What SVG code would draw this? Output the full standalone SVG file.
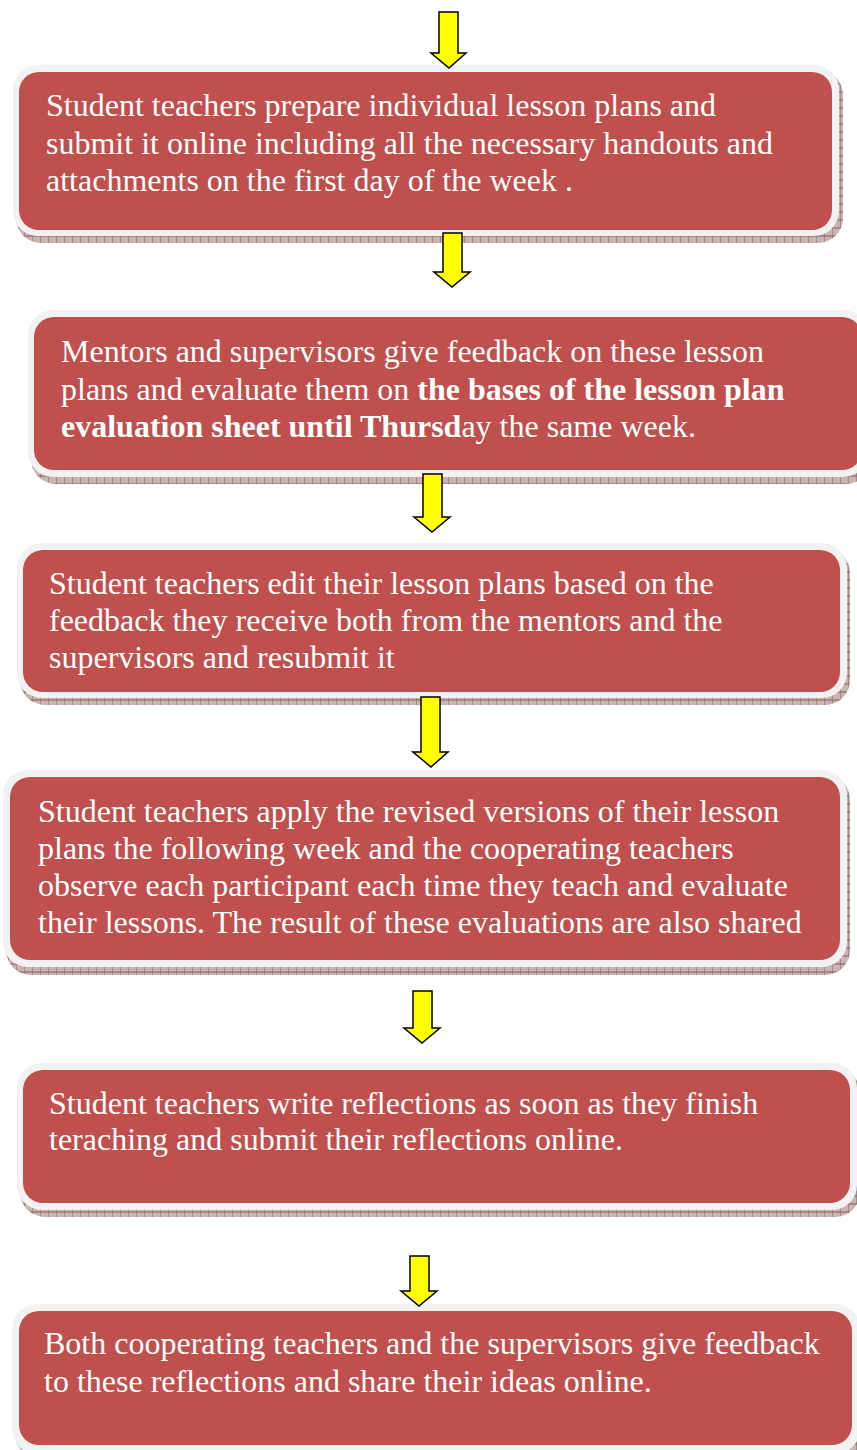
<svg xmlns="http://www.w3.org/2000/svg" width="857" height="1450" viewBox="0 0 857 1450">
<style>
.outer{fill:#F2F2F2;}
.red{fill:#C0504D;}
.sh{fill:url(#hatch);}
.t{font-family:"Liberation Serif","Times New Roman",serif;font-size:32px;fill:#FFFFFF;}
.b{font-weight:bold;}
.arr{fill:#FFFF00;stroke:#000000;stroke-width:1.5;stroke-linejoin:miter;}
</style>
<defs>
<pattern id="hatch" width="8" height="8" patternUnits="userSpaceOnUse">
<rect width="8" height="8" fill="#C9B4B4"/>
<path d="M0 0V8M0 4H8" stroke="#8E5B5B" stroke-width="1"/>
</pattern>
</defs>
<rect width="857" height="1450" fill="#FFFFFF"/>
<g id="node1">
<rect class="sh" x="16" y="70" width="827" height="173" rx="25"/>
<rect class="outer" x="13" y="65" width="826" height="171" rx="25"/>
<rect class="red" x="19" y="72" width="813" height="158" rx="20"/>
<text class="t" x="46" y="116">Student teachers prepare individual lesson plans and</text>
<text class="t" x="46" y="154">submit it online including all the necessary handouts and</text>
<text class="t" x="46" y="191">attachments on the first day of the week .</text>
</g>
<g id="node2">
<rect class="sh" x="31" y="315" width="840" height="169" rx="25"/>
<rect class="outer" x="28" y="310" width="840" height="167" rx="25"/>
<rect class="red" x="34" y="317" width="828" height="153" rx="20"/>
<text class="t" x="61" y="362">Mentors and supervisors give feedback on these lesson</text>
<text class="t" x="61" y="400">plans and evaluate them on <tspan class="b">the bases of the lesson plan</tspan></text>
<text class="t" x="61" y="437"><tspan class="b">evaluation sheet until Thursd</tspan>ay the same week.</text>
</g>
<g id="node3">
<rect class="sh" x="20" y="548" width="830" height="157" rx="25"/>
<rect class="outer" x="17" y="543" width="830" height="155" rx="25"/>
<rect class="red" x="23" y="550" width="817" height="142" rx="20"/>
<text class="t" x="49" y="594">Student teachers edit their lesson plans based on the</text>
<text class="t" x="49" y="631">feedback they receive both from the mentors and the</text>
<text class="t" x="49" y="668">supervisors and resubmit it</text>
</g>
<g id="node4">
<rect class="sh" x="6" y="775" width="844" height="200" rx="25"/>
<rect class="outer" x="3" y="770" width="844" height="197" rx="25"/>
<rect class="red" x="10" y="777" width="830" height="183" rx="20"/>
<text class="t" x="38" y="822">Student teachers apply the revised versions of their lesson</text>
<text class="t" x="38" y="859">plans the following week and the cooperating teachers</text>
<text class="t" x="38" y="896">observe each participant each time they teach and evaluate</text>
<text class="t" x="38" y="933">their lessons. The result of these evaluations are also shared</text>
</g>
<g id="node5">
<rect class="sh" x="20" y="1068" width="840" height="149" rx="25"/>
<rect class="outer" x="17" y="1063" width="840" height="147" rx="25"/>
<rect class="red" x="23" y="1070" width="827" height="133" rx="20"/>
<text class="t" x="49" y="1114">Student teachers write reflections as soon as they finish</text>
<text class="t" x="49" y="1150">teraching and submit their reflections online.</text>
</g>
<g id="node6">
<rect class="sh" x="15" y="1309" width="848" height="150" rx="25"/>
<rect class="outer" x="12" y="1304" width="848" height="150" rx="25"/>
<rect class="red" x="19" y="1311" width="833" height="134" rx="20"/>
<text class="t" x="44" y="1354">Both cooperating teachers and the supervisors give feedback</text>
<text class="t" x="44" y="1392">to these reflections and share their ideas online.</text>
</g>
<g id="connectors">
<path class="arr" d="M439 12H458V53H466L449 68L431 53H439Z"/>
<path class="arr" d="M443 233H462V272H470L452 287L434 272H443Z"/>
<path class="arr" d="M423 474H442V517H450L432 532L414 517H423Z"/>
<path class="arr" d="M421 697H440V752H448L431 767L413 752H421Z"/>
<path class="arr" d="M413 991H432V1028H440L422 1043L404 1028H413Z"/>
<path class="arr" d="M410 1256H429V1291H437L419 1306L401 1291H410Z"/>
</g>
</svg>
